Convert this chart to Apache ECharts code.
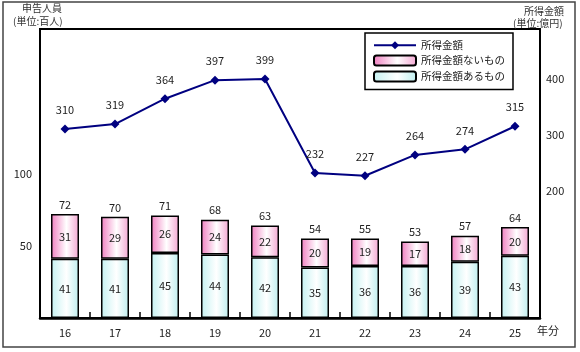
<!DOCTYPE html>
<html>
<head>
<meta charset="utf-8">
<script src="https://cdn.jsdelivr.net/npm/echarts@6/dist/echarts.min.js"></script>
<style>
html,body{margin:0;padding:0;background:#fff;}
#c{width:580px;height:352px;}
</style>
</head>
<body>
<div id="c"></div>
<script>
const categories = ['16','17','18','19','20','21','22','23','24','25'];
const withIncome = [41,41,45,44,42,35,36,36,39,43];      // 所得金額あるもの
const withoutIncome = [31,29,26,24,22,20,19,17,18,20];   // 所得金額ないもの
const totals = [72,70,71,68,63,54,55,53,57,64];
const incomeAmount = [310,319,364,397,399,232,227,264,274,315]; // 所得金額
const leftTicks = [50,100];
const rightTicks = [200,300,400];

const FONT = '"Noto Sans CJK JP", "Noto Sans", sans-serif';
const chart = echarts.init(document.getElementById('c'));

const pinkGrad = new echarts.graphic.LinearGradient(0,0,1,0,[
  {offset:0,color:'#f07ec0'},{offset:0.55,color:'#ffffff'},{offset:1,color:'#f4a6d2'}]);
const cyanGrad = new echarts.graphic.LinearGradient(0,0,1,0,[
  {offset:0,color:'#c4f2f2'},{offset:0.55,color:'#ffffff'},{offset:1,color:'#bdeeee'}]);

const txt = {fontFamily:FONT,fontSize:11,color:'#222'};

chart.setOption({
  animation:false,
  textStyle:{fontFamily:FONT},
  grid:{left:40,right:40,top:29,bottom:34,show:true,borderColor:'#000',borderWidth:2,backgroundColor:'transparent'},
  legend:{
    data:['所得金額','所得金額ないもの','所得金額あるもの'],
    orient:'vertical',left:365,top:33,
    backgroundColor:'#fff',borderColor:'#000',borderWidth:1.5,
    padding:[7,8,7,8],itemGap:4,itemWidth:42,itemHeight:10,
    textStyle:{fontFamily:FONT,fontSize:10.5,color:'#222'}
  },
  xAxis:{
    type:'category',data:categories,
    axisLine:{lineStyle:{color:'#000',width:2.5}},
    axisTick:{show:true,inside:true,length:6,alignWithLabel:false,interval:0,lineStyle:{color:'#000',width:1.5}},
    axisLabel:{margin:9,...txt},
    z:10
  },
  yAxis:[
    {type:'value',min:0,max:200,position:'left',
     axisLine:{show:true,lineStyle:{color:'#000',width:2}},axisTick:{show:false},splitLine:{show:false},
     axisLabel:{margin:8,customValues:leftTicks,...txt}},
    {type:'value',min:-26,max:488,position:'right',
     axisLine:{show:true,lineStyle:{color:'#000',width:2}},axisTick:{show:false},splitLine:{show:false},
     axisLabel:{margin:6,customValues:rightTicks,...txt}}
  ],
  series:[
    {name:'所得金額あるもの',type:'bar',stack:'a',barWidth:28,data:withIncome,
     itemStyle:{color:cyanGrad,borderColor:'#000',borderWidth:1.5},
     label:{show:true,position:'inside',...txt}},
    {name:'所得金額ないもの',type:'bar',stack:'a',barWidth:28,data:withoutIncome,
     itemStyle:{color:pinkGrad,borderColor:'#000',borderWidth:1.5},
     label:{show:true,position:'inside',...txt}},
    {name:'total',type:'bar',stack:'a',barWidth:28,data:totals.map(()=>0),
     itemStyle:{color:'transparent',borderWidth:0},
     label:{show:true,position:'top',distance:4,formatter:p=>totals[p.dataIndex],...txt}},
    {name:'所得金額',type:'line',yAxisIndex:1,data:incomeAmount,
     symbol:'diamond',symbolSize:9,
     lineStyle:{color:'#000080',width:2},itemStyle:{color:'#000080'},
     label:{show:true,position:'top',distance:9,...txt},z:5}
  ],
  graphic:[
    {type:'rect',shape:{x:3,y:2,width:572,height:345},style:{fill:'none',stroke:'#444',lineWidth:1.5},silent:true},
    {type:'text',left:22,top:3,style:{text:'申告人員',font:'10px '+FONT,fill:'#333'}},
    {type:'text',left:13,top:16,style:{text:'(単位:百人)',font:'10px '+FONT,fill:'#333'}},
    {type:'text',left:524,top:6,style:{text:'所得金額',font:'10px '+FONT,fill:'#333'}},
    {type:'text',left:513,top:18,style:{text:'(単位:億円)',font:'10px '+FONT,fill:'#333'}},
    {type:'text',left:537,top:325,style:{text:'年分',font:'11px '+FONT,fill:'#222'}}
  ]
});
</script>
</body>
</html>
